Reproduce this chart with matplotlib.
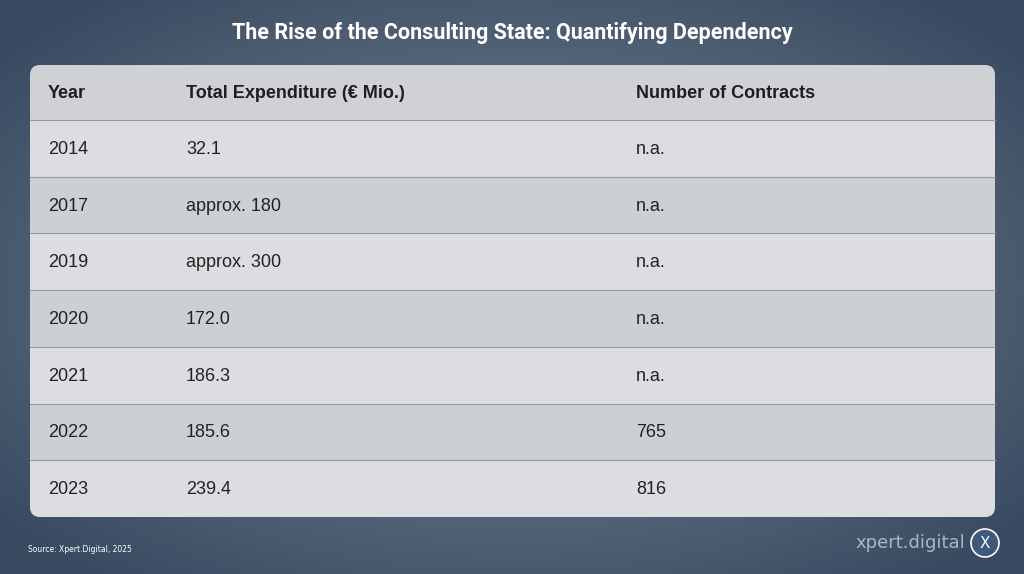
import matplotlib
matplotlib.use("Agg")
import matplotlib.pyplot as plt
from matplotlib.patches import FancyBboxPatch, Rectangle, Circle
import numpy as np

title = "The Rise of the Consulting State: Quantifying Dependency"
headers = ["Year", "Total Expenditure (€ Mio.)", "Number of Contracts"]
years = ["2014", "2017", "2019", "2020", "2021", "2022", "2023"]
expenditure = ["32.1", "approx. 180", "approx. 300", "172.0", "186.3", "185.6", "239.4"]
contracts = ["n.a.", "n.a.", "n.a.", "n.a.", "n.a.", "765", "816"]
source = "Source: Xpert.Digital, 2025"

W, H = 1024, 574
fig = plt.figure(figsize=(W/100, H/100), dpi=100)
ax = fig.add_axes([0, 0, 1, 1])
ax.set_xlim(0, W); ax.set_ylim(H, 0); ax.axis("off")

yy, xx = np.mgrid[0:H, 0:W]
d = np.sqrt(((xx - W/2)/(W/2))**2 + ((yy - H/2)/(H/2))**2)
c0 = np.array([0.50, 0.55, 0.60]); c1 = np.array([0.22, 0.29, 0.38])
t = np.clip(d/1.3, 0, 1)[..., None]
img = c0*(1-t) + c1*t
ax.imshow(img, extent=[0, W, H, 0], zorder=0)

ax.text(W/2, 33, title, ha="center", va="center", color="white", fontsize=15.5,
        fontweight="bold", family="Roboto", fontstretch="condensed")

x0, x1, top, bot = 30, 995, 65, 517
hh = 55
rh = (bot - top - hh) / len(years)
# header (rounded top)
ax.add_patch(FancyBboxPatch((x0, top), x1-x0, hh, boxstyle="round,pad=0,rounding_size=10",
                            fc="#cfd1d4", ec="none", zorder=1))
ax.add_patch(Rectangle((x0, top+12), x1-x0, hh-12, fc="#cfd1d4", ec="none", zorder=1))
cols = [48, 186, 636]
for c, h in zip(cols, headers):
    ax.text(c, top+hh/2+1, h, ha="left", va="center", fontsize=13, fontweight="bold",
            color="#1e1e1e", family="Liberation Sans", zorder=3)
n = len(years)
for i, (y, e, nc) in enumerate(zip(years, expenditure, contracts)):
    ry = top + hh + i*rh
    fc = "#dcdde0" if i % 2 == 0 else "#cdd0d3"
    if i == n-1:
        ax.add_patch(FancyBboxPatch((x0, ry), x1-x0, rh, boxstyle="round,pad=0,rounding_size=10",
                                    fc=fc, ec="none", zorder=1))
        ax.add_patch(Rectangle((x0, ry), x1-x0, rh-12, fc=fc, ec="none", zorder=1))
    else:
        ax.add_patch(Rectangle((x0, ry), x1-x0, rh, fc=fc, ec="none", zorder=1))
    ax.plot([x0, x1], [ry, ry], color="#9a9a9a", lw=0.8, zorder=3)
    for c, v in zip(cols, [y, e, nc]):
        ax.text(c, ry+rh/2+1, v, ha="left", va="center", fontsize=13, color="#222222",
                family="Liberation Sans", zorder=3)

ax.text(28, 549, source, ha="left", va="center", fontsize=5.5, color="white")
ax.text(965, 543, "xpert.digital", ha="right", va="center", fontsize=13, color="#c8d0d8", alpha=0.8)
ax.add_patch(Circle((985, 543), 14, fc="#3d5a7a", ec="white", lw=1.2, zorder=3))
ax.text(985, 544, "X", ha="center", va="center", fontsize=11, color="white", zorder=4)

fig.savefig("out.png", dpi=100)
